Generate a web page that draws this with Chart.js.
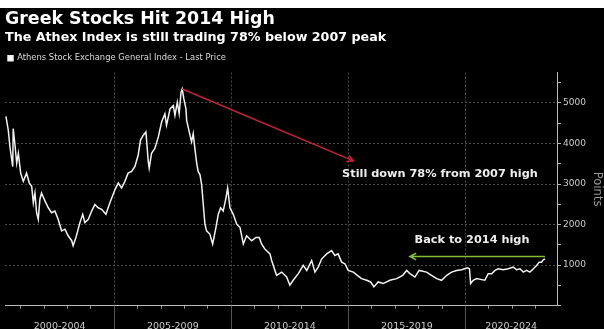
<!DOCTYPE html>
<html>
<head>
<meta charset="utf-8">
<script src="https://cdn.jsdelivr.net/npm/chart.js@4"></script>
<style>
  html, body { margin: 0; padding: 0; background: #fff; overflow: hidden; }
  canvas { display: block; }
</style>
</head>
<body>
<canvas id="myChart" width="604" height="340"></canvas>
<script>
// Athex general index (decimal years / index points)
const years = [
  2000.37, 2000.47, 2000.54, 2000.66, 2000.68, 2000.75, 2000.83, 2000.90, 2001.00, 2001.11,
  2001.25, 2001.37, 2001.47, 2001.54, 2001.61, 2001.68, 2001.75, 2001.82, 2001.89, 2002.04,
  2002.18, 2002.32, 2002.46, 2002.60, 2002.75, 2002.89, 2003.03, 2003.18, 2003.24, 2003.36,
  2003.53, 2003.65, 2003.74, 2003.89, 2004.03, 2004.17, 2004.31, 2004.46, 2004.64, 2004.81,
  2005.03, 2005.17, 2005.31, 2005.45, 2005.59, 2005.74, 2005.88, 2006.02, 2006.12, 2006.24,
  2006.35, 2006.45, 2006.49, 2006.59, 2006.73, 2006.88, 2007.02, 2007.16, 2007.23, 2007.38,
  2007.52, 2007.59, 2007.69, 2007.77, 2007.85, 2007.90, 2007.97, 2008.06, 2008.09, 2008.20,
  2008.30, 2008.37, 2008.44, 2008.52, 2008.58, 2008.66, 2008.73, 2008.80, 2008.87, 2008.94,
  2009.08, 2009.20, 2009.34, 2009.44, 2009.54, 2009.65, 2009.77, 2009.84, 2009.94, 2010.08,
  2010.23, 2010.37, 2010.51, 2010.65, 2010.87, 2011.05, 2011.19, 2011.29, 2011.43, 2011.65,
  2011.72, 2011.93, 2012.15, 2012.36, 2012.50, 2012.64, 2012.86, 2013.07, 2013.22, 2013.43,
  2013.57, 2013.71, 2013.86, 2014.07, 2014.28, 2014.42, 2014.56, 2014.71, 2014.85, 2014.99,
  2015.21, 2015.38, 2015.56, 2015.78, 2015.95, 2016.09, 2016.27, 2016.49, 2016.77, 2017.06,
  2017.32, 2017.49, 2017.63, 2017.84, 2018.02, 2018.34, 2018.55, 2018.77, 2018.98, 2019.20,
  2019.41, 2019.62, 2019.84, 2020.08, 2020.17, 2020.22, 2020.33, 2020.48, 2020.69, 2020.83,
  2020.97, 2021.12, 2021.26, 2021.40, 2021.61, 2021.83, 2022.04, 2022.19, 2022.33, 2022.47,
  2022.61, 2022.75, 2022.90, 2023.04, 2023.15, 2023.25, 2023.32, 2023.40
];
const prices = [
  4668, 4327, 3920, 3432, 4366, 4000, 3512, 3756, 3268, 3066,
  3268, 3024, 2944, 2537, 2780, 2293, 2130, 2620, 2780, 2578,
  2415, 2293, 2334, 2130, 1846, 1887, 1724, 1603, 1480, 1683,
  2049, 2253, 2049, 2130, 2334, 2497, 2415, 2375, 2253, 2537,
  2863, 3024, 2902, 3066, 3268, 3310, 3432, 3717, 4083, 4205,
  4285, 3554, 3390, 3756, 3878, 4163, 4529, 4732, 4448, 4854,
  4936, 4692, 5017, 4732, 5261, 5342, 5098, 4854, 4570, 4285,
  4041, 4244, 3878, 3512, 3310, 3229, 2985, 2497, 2010, 1846,
  1766, 1522, 1927, 2253, 2415, 2334, 2659, 2902, 2415, 2253,
  2010, 1927, 1522, 1724, 1603, 1683, 1683, 1522, 1400, 1278,
  1115, 749, 829, 707, 505, 627, 790, 993, 870, 1115,
  829, 951, 1156, 1278, 1359, 1237, 1278, 1074, 1034, 870,
  829, 749, 668, 627, 585, 464, 585, 546, 627, 668,
  749, 870, 790, 707, 870, 829, 749, 668, 627, 749,
  829, 870, 886, 935, 910, 546, 627, 668, 643, 627,
  790, 790, 870, 911, 886, 911, 951, 886, 911, 829,
  870, 829, 911, 993, 1074, 1074, 1131, 1156
];

const blockLabels = ["2000-2004", "2005-2009", "2010-2014", "2015-2019", "2020-2024"];
const blockEdges = [2005, 2010, 2015, 2020];
const yearTicks = [2001, 2002, 2003, 2004, 2005, 2006, 2007, 2008, 2009, 2010, 2011, 2012,
  2013, 2014, 2015, 2016, 2017, 2018, 2019, 2020, 2021, 2022, 2023];
const yTicks = [0, 500, 1000, 1500, 2000, 2500, 3000, 3500, 4000, 4500, 5000, 5500];

// annotations, in data units
const peakArrow = [[2007.90, 5342], [2015.21, 3571]];
const highArrow = [[2023.40, 1212], [2017.63, 1212]];
const notes = [
  { text: "Still down 78% from 2007 high", x: 2018.91, y: 3249 },
  { text: "Back to 2014 high", x: 2020.28, y: 1627 }
];

const xMin = 2000.33, xMax = 2023.91, yMax = 5750;
const labelCenters = [(xMin + 2005) / 2, 2007.5, 2012.5, 2017.5, (2020 + xMax) / 2];

const FONT = "'DejaVu Sans', Verdana, sans-serif";
const gridColor = "#4a4a4a";

function arrow(ctx, x1, y1, x2, y2, color) {
  const a = Math.atan2(y2 - y1, x2 - x1), h = 7;
  ctx.save();
  ctx.strokeStyle = color;
  ctx.lineWidth = 1.6;
  ctx.beginPath();
  ctx.moveTo(x1, y1);
  ctx.lineTo(x2, y2);
  ctx.moveTo(x2 - h * Math.cos(a - 0.5), y2 - h * Math.sin(a - 0.5));
  ctx.lineTo(x2, y2);
  ctx.lineTo(x2 - h * Math.cos(a + 0.5), y2 - h * Math.sin(a + 0.5));
  ctx.stroke();
  ctx.restore();
}

const extras = {
  id: "extras",
  beforeDraw(chart) {
    const ctx = chart.ctx;
    ctx.save();
    ctx.fillStyle = "#000";
    ctx.fillRect(0, 8, chart.width, chart.height - 8);
    ctx.restore();
  },
  afterDraw(chart) {
    const { ctx, chartArea, scales: { x, y } } = chart;
    ctx.save();
    ctx.strokeStyle = "#555";
    ctx.lineWidth = 1;
    blockEdges.forEach(v => {
      const px = Math.round(x.getPixelForValue(v)) + 0.5;
      ctx.beginPath();
      ctx.moveTo(px, chartArea.bottom);
      ctx.lineTo(px, chart.height);
      ctx.stroke();
    });
    ctx.restore();

    arrow(ctx, x.getPixelForValue(peakArrow[0][0]), y.getPixelForValue(peakArrow[0][1]),
      x.getPixelForValue(peakArrow[1][0]), y.getPixelForValue(peakArrow[1][1]), "#c0223c");
    arrow(ctx, x.getPixelForValue(highArrow[0][0]), y.getPixelForValue(highArrow[0][1]),
      x.getPixelForValue(highArrow[1][0]), y.getPixelForValue(highArrow[1][1]), "#86bc3a");

    ctx.save();
    ctx.fillStyle = "#eee";
    ctx.font = "bold 11.3px " + FONT;
    ctx.textAlign = "center";
    ctx.textBaseline = "middle";
    notes.forEach(n => ctx.fillText(n.text, x.getPixelForValue(n.x), y.getPixelForValue(n.y)));
    ctx.restore();
  }
};

new Chart(document.getElementById("myChart"), {
  type: "line",
  data: {
    datasets: [{
      label: "Athens Stock Exchange General Index - Last Price",
      data: years.map((yr, i) => ({ x: yr, y: prices[i] })),
      borderColor: "#f2f2f2",
      backgroundColor: "#fff",
      borderWidth: 1.5,
      pointRadius: 0,
      tension: 0
    }]
  },
  options: {
    responsive: false,
    animation: false,
    layout: { padding: { left: 5, right: 0, top: 0, bottom: 0 } },
    plugins: {
      title: {
        display: true, align: "start", color: "#fff",
        text: "Greek Stocks Hit 2014 High",
        font: { family: FONT, size: 17.4, weight: "bold", lineHeight: 1.2 },
        padding: { top: 9, bottom: 0 }
      },
      subtitle: {
        display: true, align: "start", color: "#fff",
        text: "The Athex Index is still trading 78% below 2007 peak",
        font: { family: FONT, size: 12.7, weight: "bold", lineHeight: 1.2 },
        padding: { top: 0, bottom: 6 }
      },
      legend: {
        display: true, align: "start",
        labels: { boxWidth: 5, boxHeight: 5, padding: 3, color: "#ddd", font: { family: FONT, size: 8.4 } }
      },
      tooltip: { enabled: false }
    },
    scales: {
      x: {
        type: "linear", min: xMin, max: xMax,
        afterBuildTicks: s => { s.ticks = yearTicks.concat(labelCenters).sort((a, b) => a - b).map(v => ({ value: v })); },
        afterFit: s => { s.height = 34.3; },
        grid: {
          color: c => blockEdges.includes(c.tick.value) ? gridColor : "transparent",
          tickColor: c => Number.isInteger(c.tick.value) ? "#999" : "transparent",
          tickLength: 3
        },
        border: { color: "#bbb", width: 1, dash: [2, 2] },
        ticks: {
          autoSkip: false, maxRotation: 0, padding: 12, color: "#ccc",
          font: { family: FONT, size: 9.5 },
          callback: v => { const i = labelCenters.indexOf(v); return i >= 0 ? blockLabels[i] : ""; }
        }
      },
      y: {
        position: "right", min: 0, max: yMax,
        afterBuildTicks: s => { s.ticks = yTicks.map(v => ({ value: v })); },
        afterFit: s => { s.width = 47; },
        grid: {
          color: c => (c.tick.value % 1000 === 0 && c.tick.value > 0) ? gridColor : "transparent",
          tickColor: "#bbb",
          tickLength: 4
        },
        border: { color: "#bbb", width: 1, dash: [2, 2] },
        ticks: {
          padding: 2, color: "#ccc", font: { family: FONT, size: 9 },
          callback: v => (v % 1000 === 0 && v > 0) ? String(v) : ""
        },
        title: {
          display: true, text: "Points", color: "#999",
          font: { family: FONT, size: 11.5 }, padding: { top: 0, bottom: 0 }
        }
      }
    }
  },
  plugins: [extras]
});
</script>
</body>
</html>
